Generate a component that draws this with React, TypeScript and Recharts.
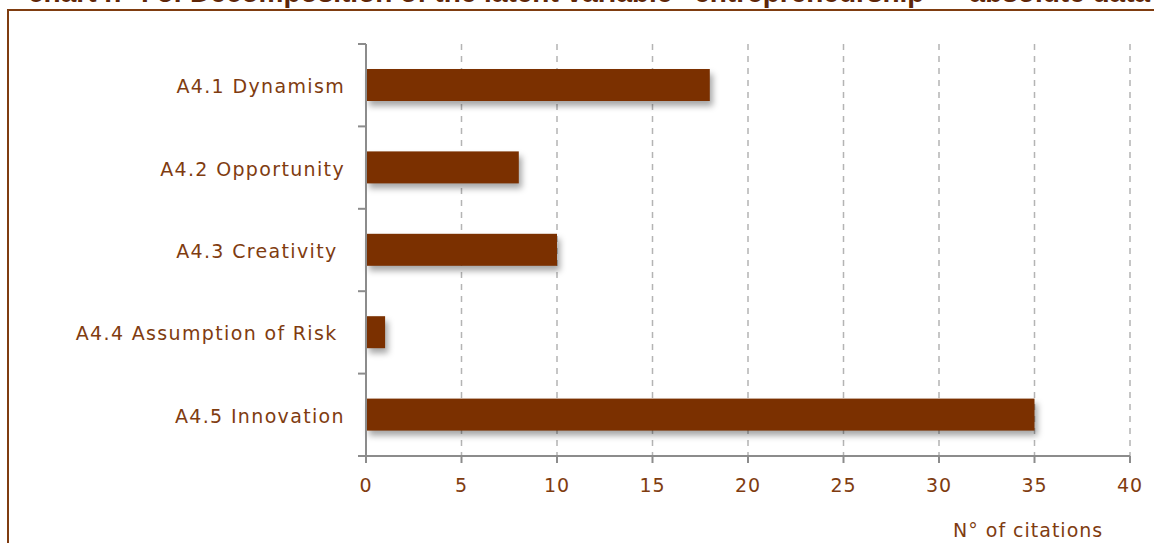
import React from 'react'
import { BarChart, Bar, XAxis, YAxis, CartesianGrid } from 'recharts'

const categories = ['A4.1 Dynamism', 'A4.2 Opportunity', 'A4.3 Creativity ', 'A4.4 Assumption of Risk ', 'A4.5 Innovation']
const citations = [18, 8, 10, 1, 35]
const xTicks = [0, 5, 10, 15, 20, 25, 30, 35, 40]

const data = categories.map((name, i) => ({ name, value: citations[i] }))

const BROWN = '#7b3000'
const TEXT = '#7f3c10'
const FONT = '"DejaVu Sans", Verdana, sans-serif'

const PLOT_TOP = 44
const PLOT_BOTTOM = 456
const BAND = (PLOT_BOTTOM - PLOT_TOP) / categories.length

const CategoryTick = (props: any) => {
  const { x, y, payload, index } = props
  const isLast = index === categories.length - 1
  return (
    <g>
      <text x={x - 21} y={y} dy={8} textAnchor="end" fill={TEXT} fontSize={19}
        fontFamily={FONT} letterSpacing={1.35} style={{ whiteSpace: 'pre' }}>
        {payload.value}
      </text>
      <line x1={x - 8} x2={x} y1={y - BAND / 2} y2={y - BAND / 2} stroke="#8c8c8c" strokeWidth={2} />
      {isLast && <line x1={x - 8} x2={x} y1={y + BAND / 2} y2={y + BAND / 2} stroke="#8c8c8c" strokeWidth={2} />}
    </g>
  )
}

const ShadowBar = (props: any) => {
  const { x, y, width, height } = props
  return (
    <rect x={x} y={y} width={width} height={height} fill={BROWN}
      style={{ filter: 'drop-shadow(3px 5px 3px rgba(0,0,0,0.35))' }} />
  )
}

const App = () => {
  return (
    <div style={{ position: 'absolute', left: 0, top: 0, width: 1154, height: 543, overflow: 'hidden', background: '#fff' }}>
      <div style={{ position: 'absolute', left: 7, top: 9, width: 1300, height: 700, border: `2px solid ${TEXT}` }} />
      <div style={{
        position: 'absolute', left: 28, top: -21, whiteSpace: 'nowrap', fontFamily: '"Liberation Sans", Arial, sans-serif',
        fontWeight: 'bold', fontSize: 28, lineHeight: '28px', color: '#5e2608'
      }}>
        chart n° : 5: Decomposition of the latent variable “entrepreneurship” – absolute data
      </div>
      <div style={{ position: 'absolute', left: 0, top: 0 }}>
        <BarChart width={1154} height={543} data={data} layout="vertical"
          margin={{ top: PLOT_TOP, right: 24, bottom: 0, left: 0 }}>
          <CartesianGrid horizontal={false} stroke="#b4b4b4" strokeDasharray="6 6" strokeWidth={1.5} />
          <XAxis type="number" domain={[0, 40]} ticks={xTicks} interval={0} height={87}
            axisLine={{ stroke: '#8c8c8c', strokeWidth: 2 }} tickLine={{ stroke: '#8c8c8c', strokeWidth: 2 }}
            tickSize={7} tickMargin={16}
            tick={{ fill: TEXT, fontSize: 19, fontFamily: FONT, letterSpacing: 0.8 }} />
          <YAxis type="category" dataKey="name" width={366} tickSize={0} tickMargin={0}
            axisLine={{ stroke: '#8c8c8c', strokeWidth: 2 }} tickLine={false}
            tick={<CategoryTick />} interval={0} />
          <Bar dataKey="value" barSize={32} fill={BROWN} shape={<ShadowBar />} isAnimationActive={false} />
        </BarChart>
      </div>
      <div style={{
        position: 'absolute', left: 953, top: 519, whiteSpace: 'nowrap', fontFamily: FONT,
        fontSize: 19, color: TEXT, letterSpacing: 1.0
      }}>
        N° of citations
      </div>
    </div>
  )
}

export default App
